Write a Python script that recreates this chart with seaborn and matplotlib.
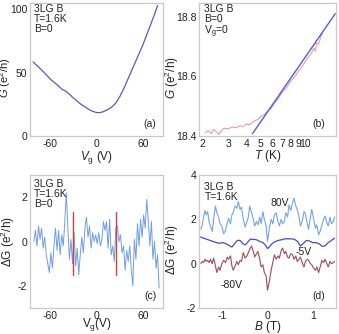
import numpy as np
import pandas as pd
import matplotlib
matplotlib.use("Agg")
import matplotlib.pyplot as plt
import seaborn as sns

# ---------------- data ----------------
# (a) G vs Vg
vg_a = [-82, -75, -70, -65, -60, -55, -50, -45, -40, -35, -30, -25, -20, -15, -10, -5,
        0, 5, 10, 15, 20, 25, 30, 35, 40, 45, 50, 55, 60, 65, 70, 75, 79]
g_a = [58.5, 54.5, 51.5, 48.5, 45.0, 42.5, 40.0, 37.0, 35.5, 33.0, 30.0, 27.5, 25.0, 23.0,
       21.0, 19.5, 18.5, 18.5, 19.5, 21.0, 23.0, 26.0, 31.0, 37.0, 44.0, 51.0, 58.0, 65.0,
       72.0, 80.0, 88.0, 96.0, 103.0]

# (b) G vs T (log)
t_b = [2.1, 2.2, 2.3, 2.4, 2.5, 2.6, 2.7, 2.8, 3.0, 3.2, 3.4, 3.6, 3.8, 4.0, 4.2, 4.4, 4.6,
       4.8, 5.0, 5.3, 5.6, 5.9, 6.2, 6.5, 6.8, 7.1, 7.5, 7.9, 8.3, 8.7, 9.1, 9.5, 10.0,
       10.5, 11.0, 11.5, 11.8, 12.0, 12.4, 12.8, 13.2]
g_b = [18.412, 18.418, 18.408, 18.422, 18.414, 18.405, 18.418, 18.426, 18.424, 18.430,
       18.428, 18.434, 18.432, 18.440, 18.438, 18.446, 18.452, 18.456, 18.465, 18.472,
       18.485, 18.492, 18.510, 18.520, 18.536, 18.550, 18.562, 18.580, 18.592, 18.604,
       18.620, 18.630, 18.648, 18.664, 18.675, 18.695, 18.685, 18.712, 18.708, 18.730,
       18.745]
t_fit = [4.4, 16.1]
g_fit = [18.408, 18.81]

# (c) dG vs Vg
vg_c = [-81, -79, -77, -75, -73, -71, -69, -67, -65, -63, -61, -59, -57, -55, -53, -51,
        -49, -47, -45, -43, -41, -39, -37, -35, -33, -31, -29, -27, -25, -23, -21, -19,
        -17, -15, -13, -11, -9, -7, -5, -3, -1, 1, 3, 5, 7, 9, 11, 13, 15, 17, 19, 21,
        23, 25, 27, 29, 31, 33, 35, 37, 39, 41, 43, 45, 47, 49, 51, 53, 55, 57, 59, 61,
        63, 65, 67, 69, 71, 73, 75, 77, 79, 81]
dg_c = [0.0, 0.5, -0.2, 0.7, 0.1, 0.6, -0.3, 0.2, -0.6, -1.0, -1.4, -0.5, -1.2, -0.2,
        0.6, -0.4, 0.5, -0.6, 0.3, -0.2, 0.9, 2.2, 0.6, -0.8, 0.1, -1.0, 0.4, -1.1, -0.3,
        -1.5, -0.6, 0.2, -0.5, 0.6, 1.1, 0.2, 0.7, -0.3, 0.4, 0.0, 0.3, -0.1, 0.4, -0.2,
        0.1, 0.9, 0.5, 0.9, -0.3, 1.0, -0.6, -0.2, -0.9, 0.6, 0.7, 0.0, 0.3, -0.5, -0.2,
        -1.3, -0.4, -0.9, -0.2, -1.3, -2.0, 0.1, -0.8, 0.8, -0.2, 1.0, 0.2, 1.2, 0.6, 1.9,
        0.9, -0.2, 0.9, -0.8, 0.0, -1.2, -0.6, -2.1]
vg_red = [-31, 25]
red_lo = -1.5
red_hi = 1.35

# (d) dG vs B
b_d = [-1.46, -1.43, -1.40, -1.37, -1.34, -1.31, -1.28, -1.25, -1.21, -1.18, -1.14, -1.11,
       -1.07, -1.04, -1.00, -0.96, -0.92, -0.88, -0.85, -0.81, -0.78, -0.75, -0.71, -0.67,
       -0.64, -0.60, -0.57, -0.53, -0.49, -0.45, -0.42, -0.39, -0.35, -0.31, -0.28, -0.24,
       -0.21, -0.17, -0.14, -0.10, -0.07, -0.03, 0.00, 0.04, 0.08, 0.12, 0.15, 0.19, 0.23,
       0.26, 0.30, 0.33, 0.37, 0.40, 0.44, 0.47, 0.51, 0.55, 0.58, 0.62, 0.65, 0.69, 0.72,
       0.76, 0.80, 0.83, 0.87, 0.90, 0.94, 0.97, 1.01, 1.05, 1.08, 1.12, 1.16, 1.19, 1.23,
       1.26, 1.30, 1.33, 1.37, 1.40, 1.44, 1.47]
dg_80 = [1.55, 1.75, 2.1, 2.4, 2.2, 2.35, 1.9, 1.7, 1.45, 2.0, 2.6, 2.3, 2.1, 1.8, 1.7,
         1.35, 1.5, 1.85, 2.05, 1.8, 2.2, 2.3, 2.6, 2.5, 2.8, 2.45, 2.55, 2.0, 1.65, 1.9,
         2.1, 2.6, 2.3, 2.0, 1.7, 1.9, 1.75, 2.1, 1.8, 2.35, 2.0, 1.7, 1.0, 1.6, 2.0, 1.8,
         2.2, 2.3, 1.9, 1.7, 2.0, 1.8, 1.9, 2.3, 2.1, 2.65, 2.4, 2.75, 2.95, 2.6, 2.45,
         2.1, 1.7, 1.9, 2.35, 2.25, 1.8, 1.55, 2.1, 2.45, 2.0, 1.6, 1.75, 1.3, 1.5, 1.75,
         2.0, 2.15, 1.85, 1.7, 2.1, 1.8, 1.9, 2.1]
dg_m80 = [0.0, 0.1, 0.05, 0.2, 0.1, 0.15, 0.05, 0.2, 0.0, 0.25, -0.1, -0.4, -0.15, -0.3,
          0.0, 0.15, 0.05, 0.3, 0.2, 0.35, -0.1, -0.3, -0.1, 0.1, -0.05, 0.15, 0.1, 0.5,
          0.25, 0.35, 0.5, 0.65, 0.8, 0.55, 0.3, 0.45, 0.55, 0.2, -0.15, -0.05, -0.4,
          -0.55, -1.2, -0.8, -0.3, 0.1, 0.4, 0.2, 0.35, 0.25, 0.6, 0.7, 0.45, 0.55, 0.3,
          0.25, 0.45, 0.4, 0.2, 0.35, 0.1, 0.2, 0.3, 0.05, -0.15, 0.1, 0.2, 0.15, 0.0,
          -0.05, -0.2, -0.3, -0.15, -0.4, -0.1, 0.15, 0.05, 0.2, 0.0, -0.15, 0.1, 0.0,
          0.05, 0.1]
b_5 = [-1.47, -1.40, -1.33, -1.26, -1.19, -1.12, -1.05, -0.98, -0.91, -0.84, -0.78, -0.72,
       -0.66, -0.60, -0.54, -0.49, -0.44, -0.38, -0.31, -0.24, -0.17, -0.10, -0.05, 0.00,
       0.05, 0.10, 0.17, 0.24, 0.31, 0.38, 0.45, 0.52, 0.59, 0.66, 0.72, 0.78, 0.85, 0.92,
       0.99, 1.06, 1.13, 1.20, 1.26, 1.33, 1.40, 1.47]
dg_5 = [1.2, 1.15, 1.1, 1.05, 1.0, 0.95, 0.92, 0.95, 0.9, 0.82, 0.75, 0.9, 1.05, 1.05,
        0.9, 0.85, 0.95, 1.1, 1.1, 1.08, 1.0, 0.95, 0.85, 0.68, 0.78, 0.9, 1.0, 1.05,
        1.08, 1.12, 1.12, 1.12, 1.1, 1.0, 0.8, 0.9, 1.05, 1.02, 0.95, 0.95, 0.9, 0.78,
        0.8, 0.95, 1.05, 1.15]

# ---------------- style ----------------
sns.set_theme(style="white")
plt.rcParams.update({
    "font.family": ["Liberation Sans", "DejaVu Sans"],
    "mathtext.fontset": "custom",
    "mathtext.rm": "Liberation Sans",
    "mathtext.it": "Liberation Sans:italic",
    "axes.unicode_minus": False,
    "axes.edgecolor": "#c8c8c8",
    "axes.linewidth": 0.9,
    "xtick.direction": "in",
    "ytick.direction": "in",
    "xtick.major.size": 2.5,
    "ytick.major.size": 2.5,
    "xtick.color": "#b0b0b0",
    "ytick.color": "#b0b0b0",
    "xtick.labelcolor": "#222222",
    "ytick.labelcolor": "#222222",
    "xtick.labelsize": 7.5,
    "ytick.labelsize": 7.5,
    "xtick.major.pad": 2.0,
    "ytick.major.pad": 2.0,
})

fig = plt.figure(figsize=(3.39, 3.34), dpi=100)
W, H = 339, 334
def pos(l, t, r, b):
    return [l / W, 1 - b / H, (r - l) / W, (b - t) / H]

axa = fig.add_axes(pos(30, 3, 163, 136))
axb = fig.add_axes(pos(199, 3, 336, 136))
axc = fig.add_axes(pos(30, 175, 163, 308))
axd = fig.add_axes(pos(199, 175, 336, 308))

txt_kw = dict(fontsize=7.5, va="top", ha="left", linespacing=1.0, color="#222222")
lab_kw = dict(fontsize=8.5, color="#222222")

# (a)
sns.lineplot(x=vg_a, y=g_a, ax=axa, color="#5a5abf", lw=0.9)
axa.set_xlim(-86, 86)
axa.set_ylim(0, 105)
axa.set_xticks([-60, 0, 60])
axa.set_yticks([0, 50, 100])
axa.set_xlabel(r"$V_{\rm g}$ (V)", **lab_kw)
axa.set_ylabel(r"$G$ (e$^2$/h)", fontsize=8, color="#222222")
axa.yaxis.set_label_coords(-0.125, 0.44)
axa.xaxis.set_label_coords(0.5, -0.1)
axa.text(0.03, 0.995, "3LG B\nT=1.6K\nB=0", transform=axa.transAxes, **txt_kw)
axa.text(0.95, 0.05, "(a)", transform=axa.transAxes, ha="right", va="bottom", fontsize=7.5)

# (b)
sns.lineplot(x=t_b, y=g_b, ax=axb, color="#f08888", lw=0.8, alpha=0.85)
sns.lineplot(x=t_fit, y=g_fit, ax=axb, color="#4a5ee0", lw=1.0)
axb.set_xscale("log")
axb.set_xlim(1.9, 16.3)
axb.set_ylim(18.4, 18.846)
axb.set_xticks([2, 3, 4, 5, 6, 7, 8, 9, 10])
axb.set_xticklabels(["2", "3", "4", "5", "6", "7", "8", "9", "10"])
axb.xaxis.set_minor_locator(matplotlib.ticker.NullLocator())
axb.set_yticks([18.4, 18.6, 18.8])
axb.set_yticklabels(["18.4", "18.6", "18.8"])
axb.set_xlabel(r"$T$ (K)", **lab_kw)
axb.set_ylabel(r"$G$ (e$^2$/h)", **lab_kw)
axb.yaxis.set_label_coords(-0.13, 0.44)
axb.xaxis.set_label_coords(0.5, -0.09)
axb.text(0.04, 0.995, "3LG B\nB=0\n" + r"V$_{\rm g}$=0", transform=axb.transAxes, **txt_kw)
axb.text(0.92, 0.05, "(b)", transform=axb.transAxes, ha="right", va="bottom", fontsize=7.5)

# (c)
sns.lineplot(x=vg_c, y=dg_c, ax=axc, color="#6e9ee6", lw=0.7)
for v in vg_red:
    axc.plot([v, v], [red_lo, red_hi], color="#e03a3a", lw=1.0)
axc.set_xlim(-86, 86)
axc.set_ylim(-3, 3)
axc.set_xticks([-60, 0, 60])
axc.set_yticks([-2, 0, 2])
axc.set_xlabel(r"V$_{\rm g}$(V)", **lab_kw)
axc.set_ylabel(r"$\Delta$G (e$^2$/h)", **lab_kw)
axc.yaxis.set_label_coords(-0.1, 0.5)
axc.xaxis.set_label_coords(0.5, -0.06)
axc.text(0.03, 0.97, "3LG B\nT=1.6K\nB=0", transform=axc.transAxes, **txt_kw)
axc.text(0.95, 0.05, "(c)", transform=axc.transAxes, ha="right", va="bottom", fontsize=7.5)

# (d)
sns.lineplot(x=b_d, y=dg_80, ax=axd, color="#75a3e8", lw=0.8)
sns.lineplot(x=b_5, y=dg_5, ax=axd, color="#4a4ac4", lw=0.9)
sns.lineplot(x=b_d, y=dg_m80, ax=axd, color="#a24a58", lw=0.8)
axd.set_xlim(-1.5, 1.5)
axd.set_ylim(-2, 4)
axd.set_xticks([-1, 0, 1])
axd.set_yticks([-2, 0, 2, 4])
axd.set_xlabel(r"$B$ (T)", **lab_kw)
axd.set_ylabel(r"$\Delta$G (e$^2$/h)", **lab_kw)
axd.yaxis.set_label_coords(-0.135, 0.44)
axd.xaxis.set_label_coords(0.5, -0.08)
axd.text(0.04, 0.95, "3LG B\nT=1.6K", transform=axd.transAxes, **txt_kw)
axd.text(0.26, 2.72, "80V", fontsize=7.5, ha="center", va="center", color="#222222")
axd.text(0.8, 0.52, "-5V", fontsize=7.5, ha="center", va="center", color="#222222")
axd.text(-0.78, -0.97, "-80V", fontsize=7.5, ha="center", va="center", color="#222222")
axd.text(0.92, 0.05, "(d)", transform=axd.transAxes, ha="right", va="bottom", fontsize=7.5)

for ax in (axa, axb, axc, axd):
    for s in ax.spines.values():
        s.set_visible(True)
        s.set_color("#c8c8c8")

fig.savefig("out.png", dpi=100)
